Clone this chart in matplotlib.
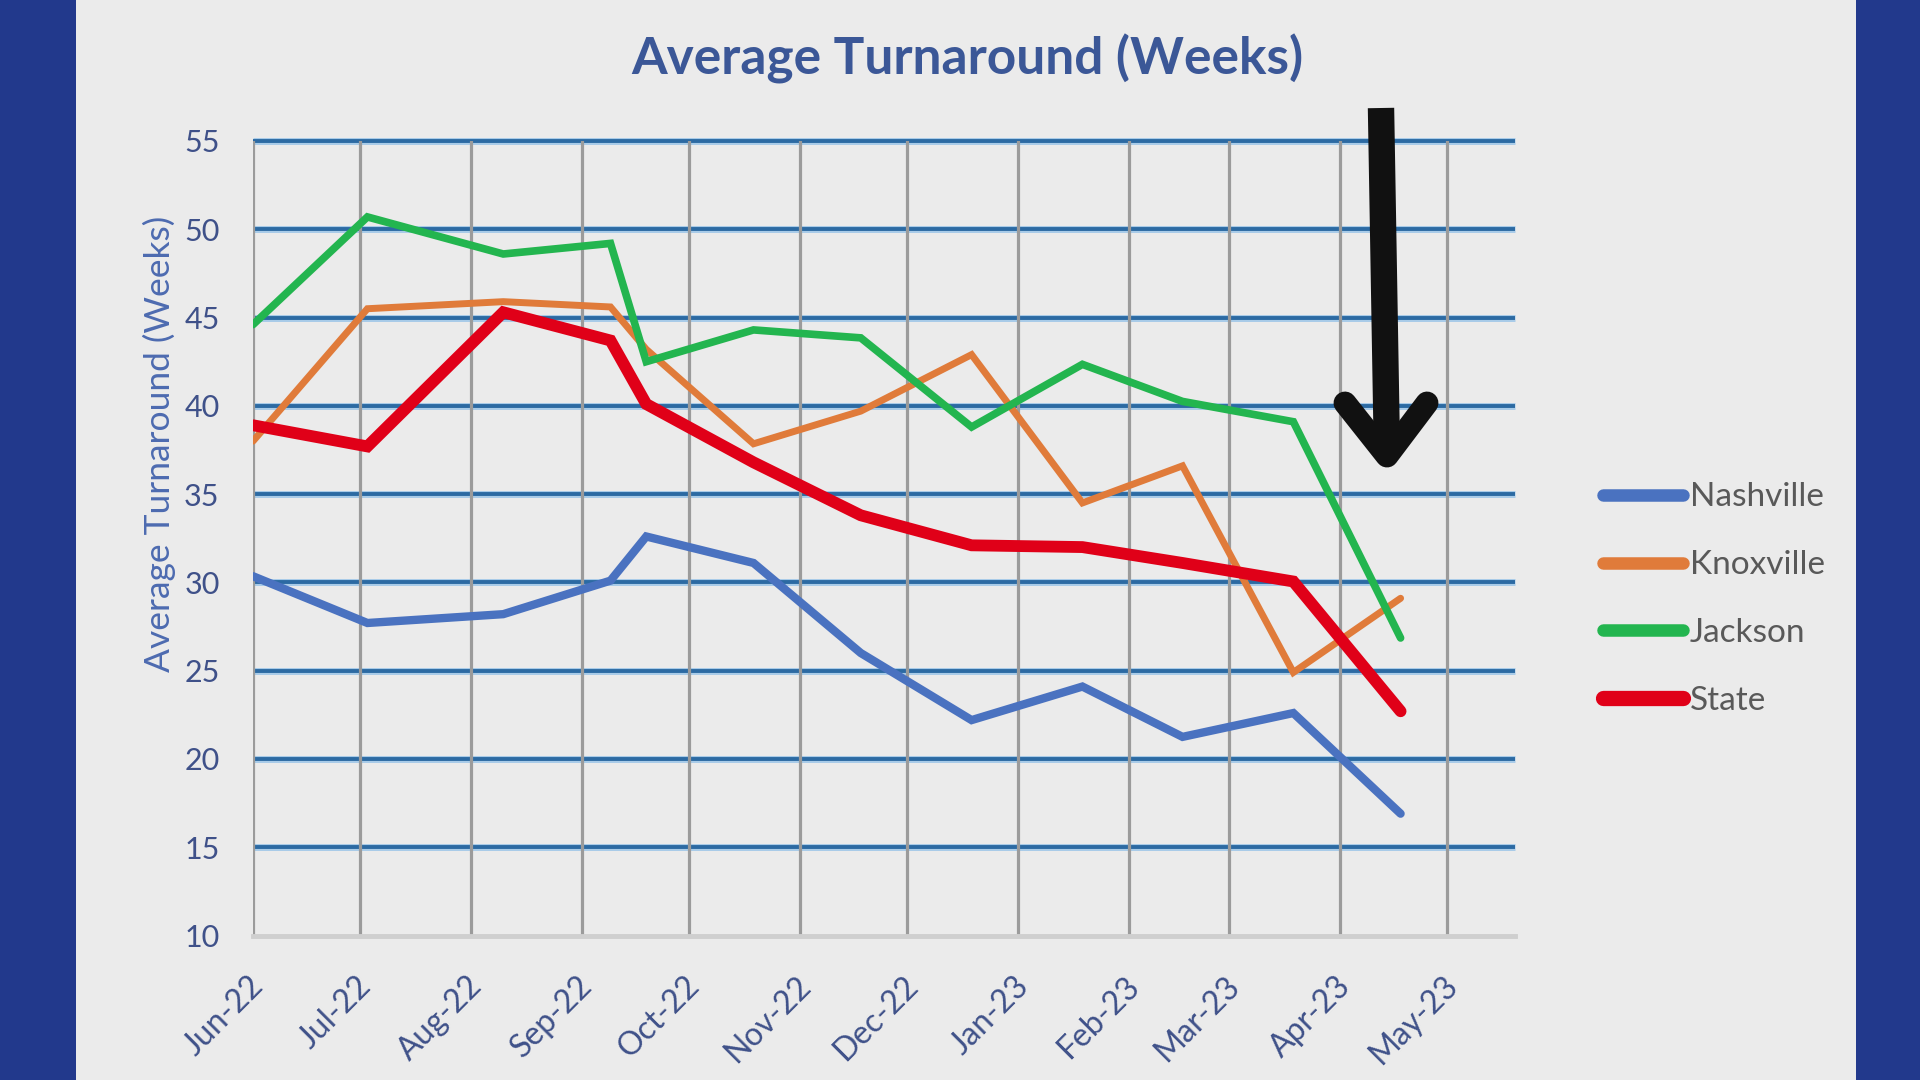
import matplotlib
matplotlib.use("Agg")
import matplotlib.pyplot as plt
import matplotlib.dates as mdates
import matplotlib.transforms as mtransforms
from matplotlib.lines import Line2D
from matplotlib.patches import Rectangle
import numpy as np

# ---------------- data ----------------
dates = np.array(["2022-06-01", "2022-07-03", "2022-08-10", "2022-09-09", "2022-09-19",
                  "2022-10-19", "2022-11-18", "2022-12-19", "2023-01-19", "2023-02-16",
                  "2023-03-19", "2023-04-18"], dtype="datetime64[D]")
nashville = [30.35, 27.7, 28.2, 30.1, 32.6, 31.1, 26.0, 22.2, 24.1, 21.25, 22.6, 16.9]
knoxville = [38.0, 45.5, 45.9, 45.6, 43.2, 37.85, 39.7, 42.9, 34.5, 36.6, 24.9, 29.1]
jackson   = [44.6, 50.7, 48.6, 49.2, 42.5, 44.3, 43.85, 38.8, 42.35, 40.25, 39.1, 26.85]
state     = [38.9, 37.7, 45.3, 43.7, 40.1, 36.8, 33.8, 32.1, 32.0, 31.1, 30.05, 22.7]
series_names = ["Nashville", "Knoxville", "Jackson", "State"]
month_ticks = np.array(["2022-06-01", "2022-07-01", "2022-08-01", "2022-09-01", "2022-10-01",
                        "2022-11-01", "2022-12-01", "2023-01-01", "2023-02-01", "2023-03-01",
                        "2023-04-01", "2023-05-01"], dtype="datetime64[D]")
y_ticks = [10, 15, 20, 25, 30, 35, 40, 45, 50, 55]
title = "Average Turnaround (Weeks)"
ylabel = "Average Turnaround (Weeks)"

# ---------------- style ----------------
FONT = "Lato"
plt.rcParams["font.family"] = [FONT, "DejaVu Sans"]
W, H = 1920, 1080
fig = plt.figure(figsize=(W / 100, H / 100), dpi=100)
fig.patch.set_facecolor("#ebebeb")

# blue side bands
fig.patches.append(Rectangle((0, 0), 76 / W, 1, transform=fig.transFigure,
                             facecolor="#22398c", edgecolor="none", zorder=0))
fig.patches.append(Rectangle((1856 / W, 0), 64 / W, 1, transform=fig.transFigure,
                             facecolor="#22398c", edgecolor="none", zorder=0))

left, right, top, bottom = 253, 1515, 141, 935.5
ax = fig.add_axes([left / W, 1 - bottom / H, (right - left) / W, (bottom - top) / H])
ax.set_facecolor("none")

ax.set_ylim(10, 55)
ax.set_xlim(np.datetime64("2022-06-01"), np.datetime64("2023-05-20"))

# gridlines
for yv in y_ticks[1:]:
    ax.axhline(yv, color="#a8cbe8", lw=5.0, zorder=0.4, clip_on=False, solid_capstyle="butt")
    ax.axhline(yv, color="#2c6aa3", lw=2.8, zorder=0.5, clip_on=False, solid_capstyle="butt")
for d in month_ticks:
    ax.axvline(d, color="#9b9b9b", lw=2.3, zorder=0.6)

for s in ["top", "right", "left"]:
    ax.spines[s].set_visible(False)
ax.spines["bottom"].set_color("#cfcfcf")
ax.spines["bottom"].set_linewidth(3.5)

colors = ["#4a72c0", "#e07b3a", "#23b54f", "#e00018"]
widths = [6.0, 5.0, 5.5, 8.5]
all_series = [nashville, knoxville, jackson, state]
lines = []
for name, vals, c, lw in zip(series_names, all_series, colors, widths):
    ln, = ax.plot(dates, vals, color=c, lw=lw, label=name, solid_joinstyle="miter",
                  solid_capstyle="round", zorder=3)
    lines.append(ln)

ax.set_yticks(y_ticks)
ax.set_yticklabels([str(v) for v in y_ticks])
ax.set_xticks(month_ticks)
ax.xaxis.set_major_formatter(mdates.DateFormatter("%b-%y"))
ax.tick_params(axis="both", length=0)
ax.tick_params(axis="y", pad=24, labelsize=22, labelcolor="#3f5189")
ax.tick_params(axis="x", pad=33, labelsize=23, labelcolor="#3f5189")
offset = mtransforms.ScaledTranslation(6 / 100, 0, fig.dpi_scale_trans)
for lab in ax.get_xticklabels():
    lab.set_rotation(45)
    lab.set_ha("right")
    lab.set_va("center")
    lab.set_rotation_mode("anchor")
    lab.set_transform(lab.get_transform() + offset)

# title & y label
fig.text(967 / W, 1 - 59 / H, title, ha="center", va="center", fontsize=37,
         fontweight="bold", color="#3b5797")
fig.text(159 / W, 1 - 444 / H, ylabel, ha="center", va="center", rotation=90,
         fontsize=25.5, color="#4d6bb0")

# legend
leg = ax.legend(handles=lines, loc="center left", bbox_to_anchor=(1603 / W, 1 - 599 / H),
                bbox_transform=fig.transFigure, frameon=False, fontsize=24,
                handlelength=2.4, handletextpad=0.2, labelspacing=1.13,
                borderaxespad=0, borderpad=0)
for t in leg.get_texts():
    t.set_color("#595959")
for h, lw in zip(leg.legend_handles, [9, 9, 9, 11]):
    h.set_linewidth(lw)
    h.set_solid_capstyle("round")

# black annotation arrow (figure pixel positions)
def fx(x):
    return x / W
def fy(y):
    return 1 - y / H
fig.add_artist(Line2D([fx(1381), fx(1387)], [fy(108), fy(455)], transform=fig.transFigure,
                      color="#111111", lw=19, solid_capstyle="butt", zorder=10))
fig.add_artist(Line2D([fx(1345), fx(1387), fx(1427)], [fy(403), fy(456), fy(403)],
                      transform=fig.transFigure, color="#111111", lw=16.5,
                      solid_capstyle="round", solid_joinstyle="round", zorder=10))

fig.savefig("out.png", dpi=100, facecolor=fig.get_facecolor())
